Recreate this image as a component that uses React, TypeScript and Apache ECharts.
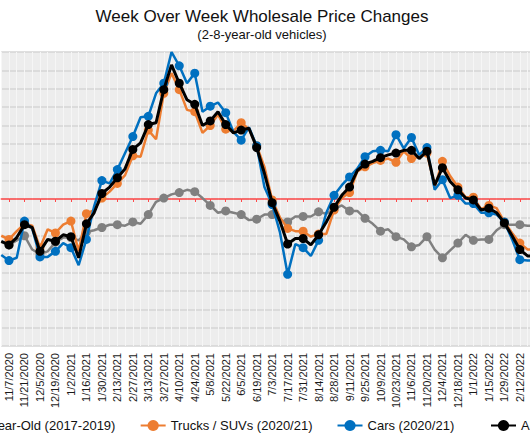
import React, { useEffect, useRef } from "react";
import * as echarts from "echarts";

// ---------- data ----------
const weeks: string[] = [
  "10/31/2020", "11/7/2020", "11/14/2020", "11/21/2020", "11/28/2020", "12/5/2020", "12/12/2020",
  "12/19/2020", "12/26/2020", "1/2/2021", "1/9/2021", "1/16/2021", "1/23/2021", "1/30/2021",
  "2/6/2021", "2/13/2021", "2/20/2021", "2/27/2021", "3/6/2021", "3/13/2021", "3/20/2021",
  "3/27/2021", "4/3/2021", "4/10/2021", "4/17/2021", "4/24/2021", "5/1/2021", "5/8/2021",
  "5/15/2021", "5/22/2021", "5/29/2021", "6/5/2021", "6/12/2021", "6/19/2021", "6/26/2021",
  "7/3/2021", "7/10/2021", "7/17/2021", "7/24/2021", "7/31/2021", "8/7/2021", "8/14/2021",
  "8/21/2021", "8/28/2021", "9/4/2021", "9/11/2021", "9/18/2021", "9/25/2021", "10/2/2021",
  "10/9/2021", "10/16/2021", "10/23/2021", "10/30/2021", "11/6/2021", "11/13/2021", "11/20/2021",
  "11/27/2021", "12/4/2021", "12/11/2021", "12/18/2021", "12/25/2021", "1/1/2022", "1/8/2022",
  "1/15/2022", "1/22/2022", "1/29/2022", "2/5/2022", "2/12/2022", "2/19/2022", "2/26/2022",
];

const avg2017to2019: number[] = [
  -0.47, -0.50, -0.45, -0.40, -0.55, -0.60, -0.57, -0.47, -0.42, -0.42,
  -0.45, -0.36, -0.34, -0.31, -0.28, -0.28, -0.29, -0.25, -0.27, -0.17,
  -0.03, 0.01, 0.05, 0.07, 0.10, 0.08, 0.01, -0.07, -0.15, -0.13,
  -0.15, -0.17, -0.23, -0.22, -0.17, -0.17, -0.23, -0.25, -0.19, -0.19,
  -0.19, -0.14, -0.16, -0.11, -0.07, -0.13, -0.13, -0.21, -0.27, -0.35,
  -0.33, -0.41, -0.44, -0.52, -0.50, -0.41, -0.55, -0.64, -0.56, -0.48,
  -0.39, -0.45, -0.44, -0.44, -0.34, -0.28, -0.28, -0.28, -0.29, -0.29,
];

const trucksSuvs: number[] = [
  -0.40, -0.44, -0.35, -0.27, -0.29, -0.53, -0.33, -0.37, -0.28, -0.24,
  -0.57, -0.16, -0.12, 0.01, 0.08, 0.17, 0.26, 0.47, 0.46, 0.75,
  0.65, 1.15, 1.37, 1.19, 0.97, 0.95, 0.72, 0.80, 0.92, 0.76,
  0.74, 0.83, 0.76, 0.58, 0.35, -0.01, -0.20, -0.32, -0.35, -0.35,
  -0.41, -0.38, -0.38, -0.12, 0.01, 0.07, 0.30, 0.35, 0.39, 0.42,
  0.44, 0.40, 0.52, 0.44, 0.46, 0.50, 0.13, 0.41, 0.25, 0.13,
  0.02, 0.02, -0.11, -0.07, -0.10, -0.25, -0.37, -0.48, -0.55, -0.55,
];

const cars: number[] = [
  -0.61, -0.67, -0.64, -0.24, -0.32, -0.63, -0.63, -0.57, -0.48, -0.53,
  -0.72, -0.44, -0.08, 0.20, 0.17, 0.32, 0.50, 0.68, 0.89, 0.90,
  1.15, 1.26, 1.60, 1.45, 1.26, 1.37, 0.95, 1.01, 1.05, 0.94,
  0.73, 0.64, 0.78, 0.58, 0.13, -0.06, -0.36, -0.82, -0.49, -0.53,
  -0.62, -0.45, -0.15, 0.04, 0.15, 0.24, 0.33, 0.46, 0.52, 0.53,
  0.52, 0.70, 0.55, 0.67, 0.48, 0.56, 0.10, 0.21, 0.01, 0.04,
  -0.05, -0.05, -0.15, -0.15, -0.17, -0.25, -0.44, -0.66, -0.67, -0.67,
];

const allVehicles: number[] = [
  -0.46, -0.50, -0.42, -0.28, -0.31, -0.57, -0.44, -0.46, -0.39, -0.41,
  -0.64, -0.27, -0.15, 0.06, 0.13, 0.23, 0.33, 0.54, 0.61, 0.81,
  0.83, 1.19, 1.46, 1.26, 1.08, 1.03, 0.80, 0.85, 0.95, 0.81,
  0.72, 0.75, 0.77, 0.56, 0.28, -0.04, -0.24, -0.49, -0.43, -0.43,
  -0.50, -0.39, -0.25, -0.09, 0.04, 0.13, 0.31, 0.38, 0.41, 0.45,
  0.48, 0.50, 0.53, 0.53, 0.44, 0.52, 0.15, 0.34, 0.19, 0.10,
  0.01, -0.01, -0.12, -0.10, -0.15, -0.26, -0.40, -0.55, -0.62, -0.62,
];

const seriesNames: string[] = [
  "2-8 Year-Old (2017-2019)",
  "Trucks / SUVs (2020/21)",
  "Cars (2020/21)",
  "All (2020/21)",
];
const seriesColors: string[] = ["#808080", "#ed7d31", "#0070c0", "#000000"];
const seriesData: number[][] = [avg2017to2019, trucksSuvs, cars, allVehicles];

// ---------- layout ----------
const OFFSET_L = 100;
const CHART_W = 724;
const CHART_H = 442;
const FONT = "'Liberation Sans', Arial, Helvetica, sans-serif";

const labelShown = (idx: number) => idx % 2 === 1 && idx < 68;

export default function App() {
  const ref = useRef<HTMLDivElement>(null);

  useEffect(() => {
    if (!ref.current) return;
    const chart = echarts.init(ref.current, null, { renderer: "svg" });
    const legendCommon = {
      top: 419,
      padding: 0,
      itemWidth: 25,
      itemHeight: 14,
      itemGap: 24,
      textStyle: { fontFamily: FONT, fontSize: 13, color: "#111111" },
    };
    const option: any = {
      animation: false,
      backgroundColor: "#ffffff",
      title: {
        text: "Week Over Week Wholesale Price Changes",
        subtext: "(2-8-year-old vehicles)",
        left: "center",
        top: 6,
        padding: 0,
        itemGap: 0,
        textStyle: {
          fontFamily: FONT,
          fontSize: 17,
          fontWeight: "normal",
          color: "#111111",
          lineHeight: 20,
        },
        subtextStyle: {
          fontFamily: FONT,
          fontSize: 13,
          color: "#111111",
          lineHeight: 16,
        },
      },
      legend: [
        { ...legendCommon, data: seriesNames.slice(0, 3), left: 37 },
        { ...legendCommon, data: seriesNames.slice(3), left: 590 },
      ],
      grid: {
        left: 101.26,
        right: 88.7,
        top: 52,
        bottom: 96,
        show: true,
        backgroundColor: "#ededed",
        borderWidth: 0,
      },
      xAxis: [
        {
          type: "category",
          data: weeks,
          boundaryGap: false,
          position: "bottom",
          axisLine: { show: false, onZero: false },
          axisTick: { show: false },
          axisLabel: {
            rotate: 90,
            interval: (idx: number) => labelShown(idx),
            margin: 7,
            fontFamily: FONT,
            fontSize: 11,
            color: "#1a1a1a",
          },
          splitLine: {
            show: true,
            interval: 0,
            lineStyle: { color: "#f6f6f6", width: 1 },
          },
        },
        {
          type: "category",
          data: weeks,
          boundaryGap: false,
          position: "bottom",
          axisLine: {
            show: true,
            onZero: true,
            lineStyle: { color: "#ff4a4a", width: 1.5 },
          },
          axisTick: {
            show: true,
            interval: (idx: number) => labelShown(idx),
            length: 3,
            lineStyle: { color: "#ff4a4a", width: 1 },
          },
          axisLabel: { show: false },
          splitLine: { show: false },
        },
      ],
      yAxis: {
        type: "value",
        min: -1.6,
        max: 1.6,
        interval: 0.2,
        axisLabel: { show: false },
        axisLine: { show: false },
        axisTick: { show: false },
        splitLine: { lineStyle: { color: "#d5d5d5", width: 1.5 } },
      },
      series: seriesNames.map((name, k) => ({
        name,
        type: "line",
        xAxisIndex: 0,
        data: seriesData[k],
        symbol: "circle",
        symbolSize: 9,
        color: seriesColors[k],
        itemStyle: { color: seriesColors[k] },
        lineStyle: { color: seriesColors[k], width: k === 3 ? 3 : 2.5 },
        z: 2 + k,
      })),
    };
    chart.setOption(option);
    return () => chart.dispose();
  }, []);

  return (
    <div
      style={{
        position: "fixed",
        left: 0,
        top: 0,
        width: 530,
        height: 442,
        overflow: "hidden",
        background: "#ffffff",
      }}
    >
      <div
        ref={ref}
        style={{ position: "absolute", left: -OFFSET_L, top: 0, width: CHART_W, height: CHART_H }}
      />
    </div>
  );
}
